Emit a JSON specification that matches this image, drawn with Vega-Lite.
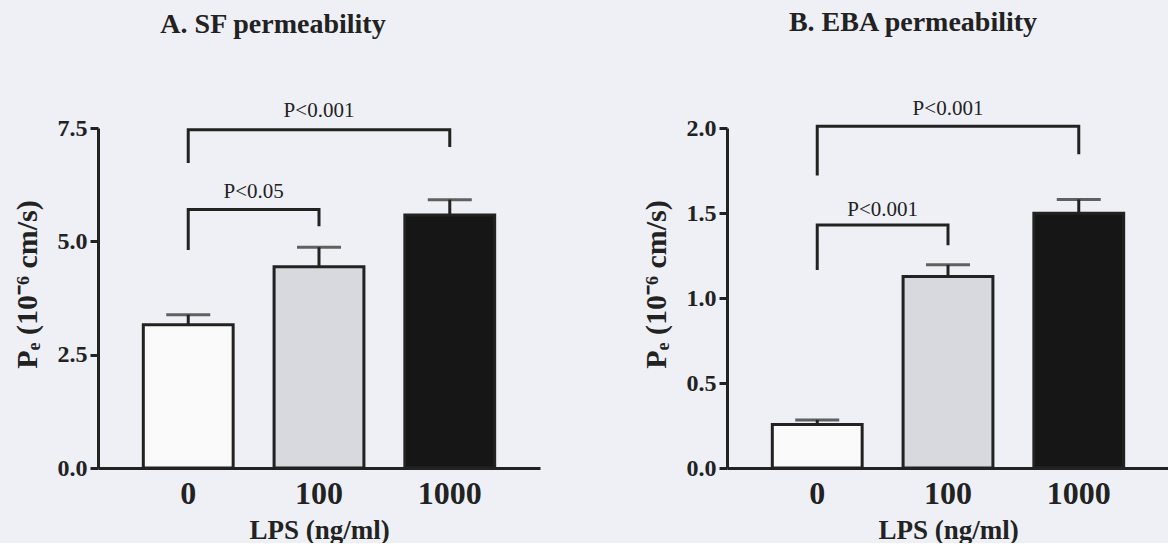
{
  "$schema": "https://vega.github.io/schema/vega-lite/v6.json",
  "background": "#eef0f5",
  "padding": {"left": 11, "top": 9, "right": 0, "bottom": 0},
  "bounds": "flush",
  "spacing": 187,
  "datasets": {
    "barsA": [
      {"lps": "0", "mean": 3.16, "upper": 3.38},
      {"lps": "100", "mean": 4.44, "upper": 4.87},
      {"lps": "1000", "mean": 5.58, "upper": 5.92}
    ],
    "bracketsA": [
      {"bracket": "b1", "order": 1, "lps": "0", "y": 6.73},
      {"bracket": "b1", "order": 2, "lps": "0", "y": 7.46},
      {"bracket": "b1", "order": 3, "lps": "1000", "y": 7.46},
      {"bracket": "b1", "order": 4, "lps": "1000", "y": 7.08},
      {"bracket": "b2", "order": 1, "lps": "0", "y": 4.81},
      {"bracket": "b2", "order": 2, "lps": "0", "y": 5.70},
      {"bracket": "b2", "order": 3, "lps": "100", "y": 5.70},
      {"bracket": "b2", "order": 4, "lps": "100", "y": 5.33}
    ],
    "wideA": [{"lps": "100", "y": 7.87, "label": "P<0.001"}],
    "narrowA": [{"lps": "0", "y": 6.09, "label": "P<0.05"}],
    "barsB": [
      {"lps": "0", "mean": 0.256, "upper": 0.283},
      {"lps": "100", "mean": 1.127, "upper": 1.195},
      {"lps": "1000", "mean": 1.498, "upper": 1.58}
    ],
    "bracketsB": [
      {"bracket": "b1", "order": 1, "lps": "0", "y": 1.72},
      {"bracket": "b1", "order": 2, "lps": "0", "y": 2.01},
      {"bracket": "b1", "order": 3, "lps": "1000", "y": 2.01},
      {"bracket": "b1", "order": 4, "lps": "1000", "y": 1.845},
      {"bracket": "b2", "order": 1, "lps": "0", "y": 1.164},
      {"bracket": "b2", "order": 2, "lps": "0", "y": 1.43},
      {"bracket": "b2", "order": 3, "lps": "100", "y": 1.43},
      {"bracket": "b2", "order": 4, "lps": "100", "y": 1.31}
    ],
    "wideB": [{"lps": "100", "y": 2.11, "label": "P<0.001"}],
    "narrowB": [{"lps": "0", "y": 1.52, "label": "P<0.001"}]
  },
  "hconcat": [
    {
      "width": 442,
      "height": 340,
      "title": {"text": "A. SF permeability", "dx": -46, "offset": 61},
      "layer": [
        {
          "data": {"name": "barsA"},
          "mark": {"type": "bar", "width": {"band": 0.687}, "stroke": "#222", "strokeWidth": 3},
          "encoding": {
            "x": {"field": "lps", "type": "nominal", "sort": null, "scale": {"domain": ["0", "100", "1000"], "paddingInner": 0, "paddingOuter": 0.19}, "axis": {"title": "LPS (ng/ml)"}},
            "y": {"field": "mean", "type": "quantitative", "scale": {"domain": [0, 7.5], "nice": false}, "axis": {"title": "Pₑ (10⁻⁶ cm/s)", "values": [0, 2.5, 5, 7.5], "format": ".1f"}},
            "fill": {"field": "lps", "type": "nominal", "scale": {"domain": ["0", "100", "1000"], "range": ["#fafafb", "#d7d9df", "#161616"]}, "legend": null}
          }
        },
        {
          "data": {"name": "barsA"},
          "mark": {"type": "rule", "color": "#222", "strokeWidth": 3},
          "encoding": {
            "x": {"field": "lps", "type": "nominal", "sort": null},
            "y": {"field": "mean", "type": "quantitative"},
            "y2": {"field": "upper"}
          }
        },
        {
          "data": {"name": "barsA"},
          "mark": {"type": "tick", "color": "#222", "size": 44, "thickness": 3},
          "encoding": {
            "x": {"field": "lps", "type": "nominal", "sort": null},
            "y": {"field": "upper", "type": "quantitative"}
          }
        },
        {
          "data": {"name": "bracketsA"},
          "mark": {"type": "line", "color": "#222", "strokeWidth": 3, "strokeJoin": "miter"},
          "encoding": {
            "x": {"field": "lps", "type": "nominal", "sort": null},
            "y": {"field": "y", "type": "quantitative"},
            "detail": {"field": "bracket"},
            "order": {"field": "order", "type": "quantitative"}
          }
        },
        {
          "data": {"name": "wideA"},
          "mark": {"type": "text", "font": "Liberation Serif", "fontSize": 21, "color": "#222", "baseline": "middle"},
          "encoding": {
            "x": {"field": "lps", "type": "nominal", "sort": null},
            "y": {"field": "y", "type": "quantitative"},
            "text": {"field": "label"}
          }
        },
        {
          "data": {"name": "narrowA"},
          "mark": {"type": "text", "font": "Liberation Serif", "fontSize": 21, "color": "#222", "baseline": "middle"},
          "encoding": {
            "x": {"field": "lps", "type": "nominal", "sort": null, "bandPosition": 1},
            "y": {"field": "y", "type": "quantitative"},
            "text": {"field": "label"}
          }
        }
      ]
    },
    {
      "width": 442,
      "height": 340,
      "title": {"text": "B. EBA permeability", "dx": -35, "offset": 61},
      "layer": [
        {
          "data": {"name": "barsB"},
          "mark": {"type": "bar", "width": {"band": 0.687}, "stroke": "#222", "strokeWidth": 3},
          "encoding": {
            "x": {"field": "lps", "type": "nominal", "sort": null, "scale": {"domain": ["0", "100", "1000"], "paddingInner": 0, "paddingOuter": 0.19}, "axis": {"title": "LPS (ng/ml)"}},
            "y": {"field": "mean", "type": "quantitative", "scale": {"domain": [0, 2], "nice": false}, "axis": {"title": "Pₑ (10⁻⁶ cm/s)", "values": [0, 0.5, 1, 1.5, 2], "format": ".1f"}},
            "fill": {"field": "lps", "type": "nominal", "scale": {"domain": ["0", "100", "1000"], "range": ["#fafafb", "#d7d9df", "#161616"]}, "legend": null}
          }
        },
        {
          "data": {"name": "barsB"},
          "mark": {"type": "rule", "color": "#222", "strokeWidth": 3},
          "encoding": {
            "x": {"field": "lps", "type": "nominal", "sort": null},
            "y": {"field": "mean", "type": "quantitative"},
            "y2": {"field": "upper"}
          }
        },
        {
          "data": {"name": "barsB"},
          "mark": {"type": "tick", "color": "#222", "size": 44, "thickness": 3},
          "encoding": {
            "x": {"field": "lps", "type": "nominal", "sort": null},
            "y": {"field": "upper", "type": "quantitative"}
          }
        },
        {
          "data": {"name": "bracketsB"},
          "mark": {"type": "line", "color": "#222", "strokeWidth": 3, "strokeJoin": "miter"},
          "encoding": {
            "x": {"field": "lps", "type": "nominal", "sort": null},
            "y": {"field": "y", "type": "quantitative"},
            "detail": {"field": "bracket"},
            "order": {"field": "order", "type": "quantitative"}
          }
        },
        {
          "data": {"name": "wideB"},
          "mark": {"type": "text", "font": "Liberation Serif", "fontSize": 21, "color": "#222", "baseline": "middle"},
          "encoding": {
            "x": {"field": "lps", "type": "nominal", "sort": null},
            "y": {"field": "y", "type": "quantitative"},
            "text": {"field": "label"}
          }
        },
        {
          "data": {"name": "narrowB"},
          "mark": {"type": "text", "font": "Liberation Serif", "fontSize": 21, "color": "#222", "baseline": "middle"},
          "encoding": {
            "x": {"field": "lps", "type": "nominal", "sort": null, "bandPosition": 1},
            "y": {"field": "y", "type": "quantitative"},
            "text": {"field": "label"}
          }
        }
      ]
    }
  ],
  "config": {
    "view": {"stroke": null},
    "font": "Liberation Serif",
    "title": {"font": "Liberation Serif", "fontSize": 28, "fontWeight": "bold", "color": "#222", "anchor": "middle", "frame": "group"},
    "axis": {"grid": false, "domainColor": "#222", "domainWidth": 3, "tickColor": "#222", "tickWidth": 3, "tickSize": 8, "labelFont": "Liberation Serif", "labelFontWeight": "bold", "labelColor": "#222", "titleFont": "Liberation Serif", "titleFontWeight": "bold", "titleColor": "#222"},
    "axisX": {"ticks": false, "labelAngle": 0, "labelFontSize": 32, "labelPadding": 10, "titleFontSize": 27, "titlePadding": 8},
    "axisY": {"labelFontSize": 24, "labelPadding": 3, "titleFontSize": 30, "titleX": -56, "titleY": 156}
  }
}
